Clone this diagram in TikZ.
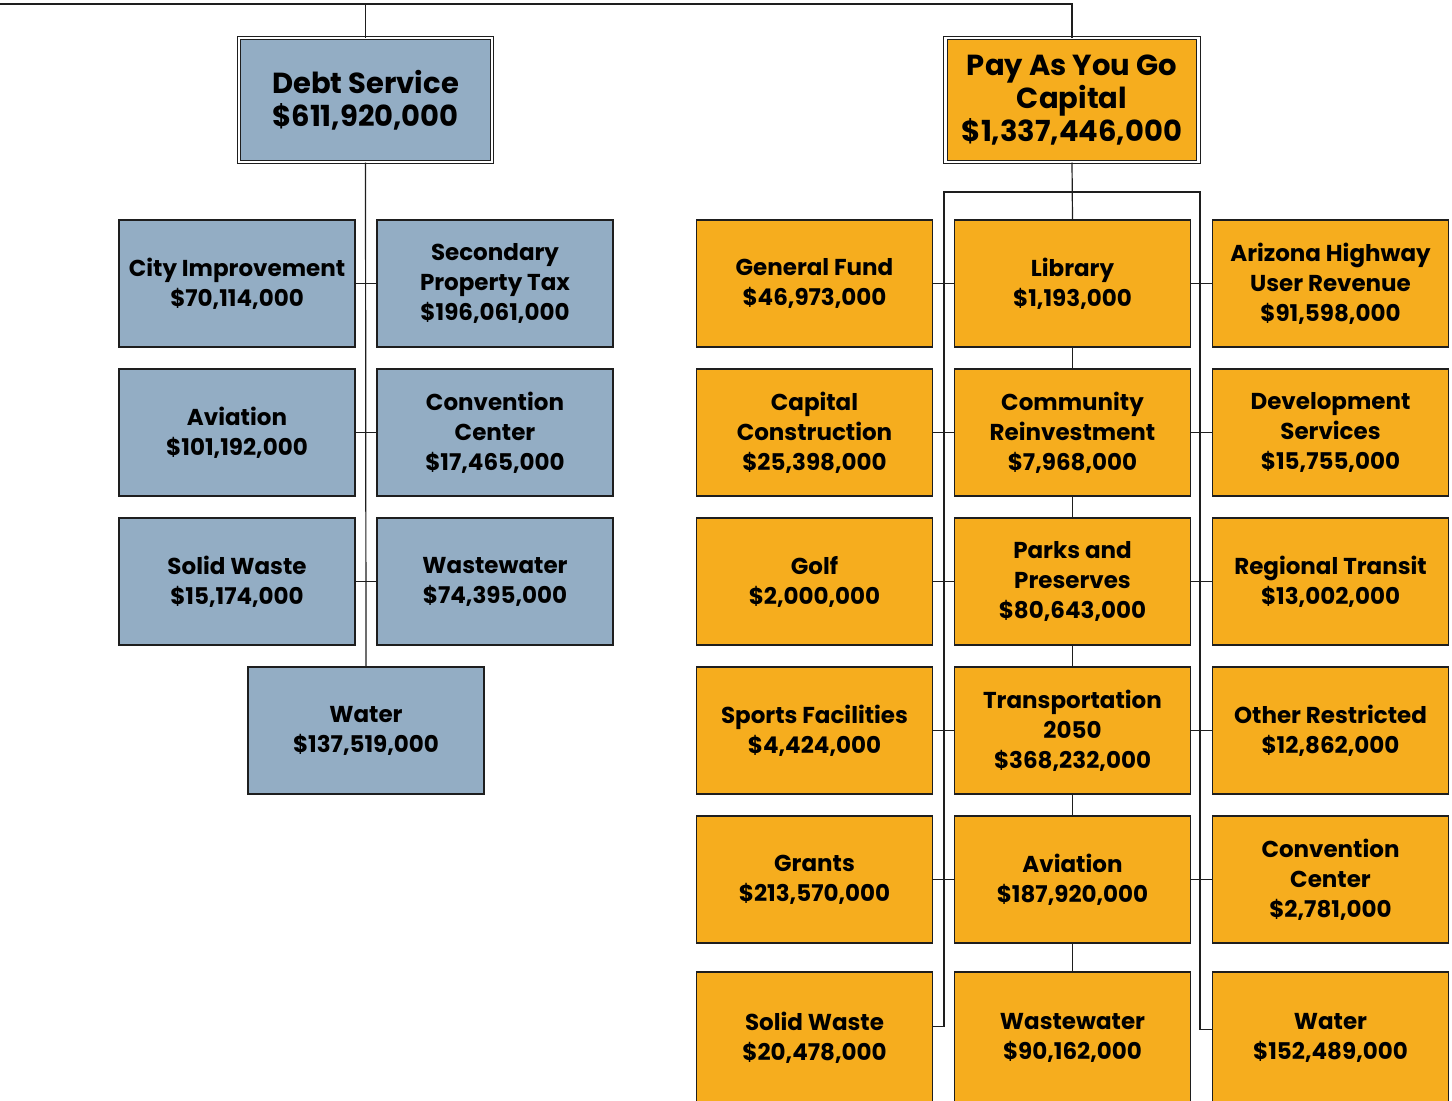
\documentclass[tikz,border=0pt]{standalone}
\usepackage{fontspec}
\setmainfont{Poppins}
\usetikzlibrary{positioning}
\definecolor{steel}{HTML}{93ADC4}
\definecolor{amber}{HTML}{F6AD1E}
\definecolor{wire}{HTML}{1E1E1E}

\begin{document}
\begin{tikzpicture}[
  x=1pt, y=-1pt,
  % fund heads get the double frame, everything else a plain box
  head/.style = {draw=wire, line width=1pt, double=white, double distance=2.6pt,
                 minimum width=253pt, minimum height=124pt, inner sep=0pt,
                 align=center, font=\bfseries\fontsize{29}{33}\selectfont},
  leaf/.style = {draw=wire, line width=1.2pt, minimum width=236pt,
                 minimum height=127pt, inner sep=0pt, align=center,
                 font=\bfseries\fontsize{23}{30}\selectfont},
  % bottom row runs off the page edge
  tail/.style = {minimum height=131pt},
  debt/.style = {fill=steel},
  cash/.style = {fill=amber},
  link/.style = {draw=wire, line width=1.2pt},
  node distance=20.8pt and 20.8pt,
]
\useasboundingbox (0,0) rectangle (1452,1101);

% ------------------------------------------------------------ debt service --
\node[head, debt] (debtsvc) at (365.5,100) {Debt Service\\\$611,920,000};
\node[leaf, debt] (cityimp) at (237,283.5) {City Improvement\\\$70,114,000};
\node[leaf, debt, right=of cityimp] (secprop) {Secondary\\Property Tax\\\$196,061,000};
\node[leaf, debt, below=of cityimp] (aviaD) {Aviation\\\$101,192,000};
\node[leaf, debt, right=of aviaD] (convD) {Convention\\Center\\\$17,465,000};
\node[leaf, debt, below=of aviaD] (solidD) {Solid Waste\\\$15,174,000};
\node[leaf, debt, right=of solidD] (wasteD) {Wastewater\\\$74,395,000};
\node[leaf, debt] (waterD) at (366,730.5) {Water\\\$137,519,000};

% --------------------------------------------------------- pay as you go --
\node[head, cash] (paygo) at (1072,100) {Pay As You Go\\Capital\\\$1,337,446,000};
\node[leaf, cash] (library) at (1072.5,283.5) {Library\\\$1,193,000};
\node[leaf, cash, left=of library] (genfund) {General Fund\\\$46,973,000};
\node[leaf, cash, right=of library] (azhwy) {Arizona Highway\\User Revenue\\\$91,598,000};

\node[leaf, cash, below=of library] (reinvest) {Community\\Reinvestment\\\$7,968,000};
\node[leaf, cash, left=of reinvest] (capcon) {Capital\\Construction\\\$25,398,000};
\node[leaf, cash, right=of reinvest] (devsvc) {Development\\Services\\\$15,755,000};

\node[leaf, cash, below=of reinvest] (parks) {Parks and\\Preserves\\\$80,643,000};
\node[leaf, cash, left=of parks] (golf) {Golf\\\$2,000,000};
\node[leaf, cash, right=of parks] (transit) {Regional Transit\\\$13,002,000};

\node[leaf, cash, below=of parks] (tr2050) {Transportation\\2050\\\$368,232,000};
\node[leaf, cash, left=of tr2050] (sports) {Sports Facilities\\\$4,424,000};
\node[leaf, cash, right=of tr2050] (otherres) {Other Restricted\\\$12,862,000};

\node[leaf, cash, below=of tr2050] (aviaP) {Aviation\\\$187,920,000};
\node[leaf, cash, left=of aviaP] (grants) {Grants\\\$213,570,000};
\node[leaf, cash, right=of aviaP] (convP) {Convention\\Center\\\$2,781,000};

\node[leaf, tail, cash, below=27.8pt of aviaP] (wasteP) {Wastewater\\\$90,162,000};
\node[leaf, tail, cash, left=of wasteP] (solidP) {Solid Waste\\\$20,478,000};
\node[leaf, tail, cash, right=of wasteP] (waterP) {Water\\\$152,489,000};

% ----------------------------------------------------------------- wiring --
\coordinate (rail) at (0,4);
\coordinate (busL) at (944,192);
\coordinate (busR) at (1200,192);

\draw[link] (rail) -| (paygo.north);
\draw[link] (debtsvc.north) -- (debtsvc.north |- rail);

\draw[link] (debtsvc.south) -- (waterD.north);
\draw[link] (cityimp.east) -- (secprop.west);
\draw[link] (aviaD.east)   -- (convD.west);
\draw[link] (solidD.east)  -- (wasteD.west);

\draw[link] (paygo.south) -- (library.north);
\draw[link] ([yshift=11pt]solidP.east) -| (busL) -- (busR) |- ([yshift=8pt]waterP.west);
\draw[link] (library.south)  -- (reinvest.north);
\draw[link] (reinvest.south) -- (parks.north);
\draw[link] (parks.south)    -- (tr2050.north);
\draw[link] (tr2050.south)   -- (aviaP.north);
\draw[link] (aviaP.south)    -- (wasteP.north);

\draw[link] (genfund.east) -- (library.west);  \draw[link] (library.east)  -- (azhwy.west);
\draw[link] (capcon.east)  -- (reinvest.west); \draw[link] (reinvest.east) -- (devsvc.west);
\draw[link] (golf.east)    -- (parks.west);    \draw[link] (parks.east)    -- (transit.west);
\draw[link] (sports.east)  -- (tr2050.west);   \draw[link] (tr2050.east)   -- (otherres.west);
\draw[link] (grants.east)  -- (aviaP.west);    \draw[link] (aviaP.east)    -- (convP.west);

\end{tikzpicture}
\end{document}
